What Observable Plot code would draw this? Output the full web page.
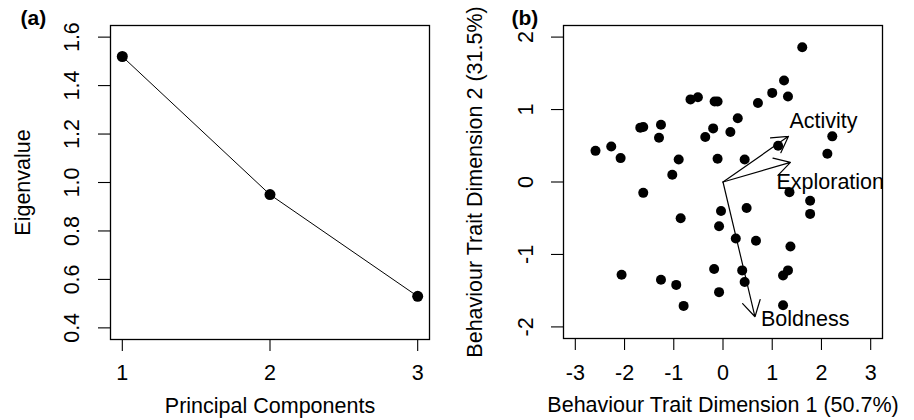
<!DOCTYPE html>
<html><head><meta charset="utf-8">
<script src="https://cdn.jsdelivr.net/npm/d3@7"></script>
<script src="https://cdn.jsdelivr.net/npm/@observablehq/plot@0.6"></script>
<style>
body{margin:0;background:#fff;}
#wrap{display:flex;width:914px;height:420px;}
</style></head><body><div id="wrap"></div>
<script>
// Panel (a): scree plot
const components = [1, 2, 3];
const eigenvalues = [1.52, 0.95, 0.53];
const aTicksX = [1, 2, 3];
const aTicksY = [0.4, 0.6, 0.8, 1.0, 1.2, 1.4, 1.6];

// Panel (b): biplot scores
const scoreX = [1.61, 1.24, 1.00, 1.32, 0.71, -0.66, -0.51, -0.17, -0.11, 0.30,
  -0.20, 0.15, -0.36, -1.68, -1.62, -1.26, -1.30, -2.59, -2.27, -2.08,
  -0.90, -1.03, -0.11, 0.44, 1.12, 2.22, 2.12, -1.62, 1.35, 1.77,
  1.77, -0.86, -0.04, 0.48, -0.08, 0.26, 0.67, 1.37, -2.06, -1.26,
  -0.95, -0.80, -0.18, -0.08, 0.39, 0.44, 1.22, 1.22, 1.32];
const scoreY = [1.86, 1.40, 1.23, 1.18, 1.09, 1.14, 1.17, 1.11, 1.11, 0.88,
  0.74, 0.69, 0.62, 0.75, 0.76, 0.79, 0.61, 0.43, 0.49, 0.33,
  0.31, 0.10, 0.32, 0.31, 0.50, 0.63, 0.39, -0.15, -0.14, -0.26,
  -0.44, -0.50, -0.40, -0.36, -0.61, -0.78, -0.81, -0.89, -1.28, -1.35,
  -1.42, -1.71, -1.20, -1.52, -1.22, -1.38, -1.70, -1.29, -1.22];
// Loadings (arrows)
const traits = ["Activity", "Exploration", "Boldness"];
const loadX = [1.33, 1.37, 0.65];
const loadY = [0.63, 0.27, -1.86];
const bTicksX = [-3, -2, -1, 0, 1, 2, 3];
const bTicksY = [-2, -1, 0, 1, 2];

const FONT = "'Liberation Sans', Arial, Helvetica, sans-serif";
const FS = 21.5;

const scree = components.map((c, i) => ({pc: c, ev: eigenvalues[i]}));
const scores = scoreX.map((x, i) => ({x, y: scoreY[i]}));
const loadings = traits.map((t, i) => ({trait: t, lx: loadX[i], ly: loadY[i]}));

const baseStyle = {fontFamily: FONT, fontSize: FS + "px", background: "white", color: "black", overflow: "visible"};

const pa = Plot.plot({
  width: 457, height: 420,
  marginLeft: 110, marginRight: 28, marginTop: 25, marginBottom: 81,
  style: baseStyle,
  x: {domain: [0.92, 3.08], axis: null},
  y: {domain: [0.352, 1.648], axis: null},
  marks: [
    Plot.axisX({ticks: aTicksX, tickSize: 12, fill: "none", label: null, anchor: "bottom", strokeWidth: 1.1}),
    Plot.axisY({ticks: aTicksY, tickSize: 12, fill: "none", label: null, anchor: "left", strokeWidth: 1.1}),
    Plot.text(aTicksX, {x: d => d, text: d => String(d), frameAnchor: "bottom", dy: 34, lineAnchor: "middle", fontSize: FS}),
    Plot.text(aTicksY, {y: d => d, text: d => d.toFixed(1), frameAnchor: "left", dx: -38, rotate: -90, textAnchor: "middle", lineAnchor: "middle", fontSize: FS}),
    Plot.text(["Eigenvalue"], {text: d => d, frameAnchor: "left", dx: -87, rotate: -90, textAnchor: "middle", lineAnchor: "middle", fontSize: FS}),
    Plot.text(["Principal Components"], {text: d => d, frameAnchor: "bottom", dy: 67, textAnchor: "middle", lineAnchor: "middle", fontSize: FS}),
    Plot.text(["(a)"], {text: d => d, frameAnchor: "top-left", dx: -90, dy: -7, textAnchor: "start", lineAnchor: "middle", fontSize: 21, fontWeight: "bold"}),
    Plot.line(scree, {x: "pc", y: "ev", stroke: "black", strokeWidth: 1}),
    Plot.dot(scree, {x: "pc", y: "ev", r: 5.5, fill: "black", stroke: "none"}),
    Plot.frame({stroke: "black", strokeWidth: 1.3})
  ]
});

const labelOffsets = {Activity: [1, -15], Exploration: [-14, 20], Boldness: [6, 2]};

const pb = Plot.plot({
  width: 457, height: 420,
  marginLeft: 106, marginRight: 32, marginTop: 25, marginBottom: 82,
  style: baseStyle,
  x: {domain: [-3.24, 3.24], axis: null},
  y: {domain: [-2.16, 2.16], axis: null},
  marks: [
    Plot.axisX({ticks: bTicksX, tickSize: 12, fill: "none", label: null, anchor: "bottom", strokeWidth: 1.1}),
    Plot.axisY({ticks: bTicksY, tickSize: 12, fill: "none", label: null, anchor: "left", strokeWidth: 1.1}),
    Plot.text(bTicksX, {x: d => d, text: d => String(d), frameAnchor: "bottom", dy: 35, lineAnchor: "middle", fontSize: FS}),
    Plot.text(bTicksY, {y: d => d, text: d => String(d), frameAnchor: "left", dx: -37, rotate: -90, textAnchor: "middle", lineAnchor: "middle", fontSize: FS}),
    Plot.text(["Behaviour Trait Dimension 2 (31.5%)"], {text: d => d, frameAnchor: "left", dx: -88, rotate: -90, textAnchor: "middle", lineAnchor: "middle", fontSize: FS}),
    Plot.text(["Behaviour Trait Dimension 1 (50.7%)"], {text: d => d, frameAnchor: "bottom", dy: 67, textAnchor: "middle", lineAnchor: "middle", fontSize: FS}),
    Plot.text(["(b)"], {text: d => d, frameAnchor: "top-left", dx: -52, dy: -7, textAnchor: "start", lineAnchor: "middle", fontSize: 21, fontWeight: "bold"}),
    Plot.dot(scores, {x: "x", y: "y", r: 5, fill: "black", stroke: "none"}),
    Plot.arrow(loadings, {x1: d => 0, y1: d => 0, x2: "lx", y2: "ly", stroke: "black", strokeWidth: 1.2, headAngle: 60, headLength: 22.5}),
    ...traits.map(t => Plot.text(loadings.filter(d => d.trait === t), {
      x: "lx", y: "ly", text: "trait", textAnchor: "start", lineAnchor: "middle",
      dx: labelOffsets[t][0], dy: labelOffsets[t][1], fontSize: FS, fill: "black"
    })),
    Plot.frame({stroke: "black", strokeWidth: 1.3})
  ]
});

document.getElementById("wrap").append(pa, pb);
</script>
</body></html>
